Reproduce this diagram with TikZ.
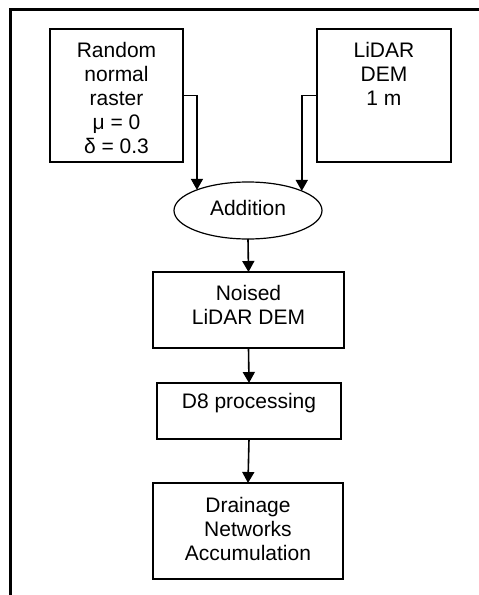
\documentclass[tikz,border=0pt]{standalone}
\usepackage{fontspec}
\setmainfont{Liberation Sans}
\usetikzlibrary{arrows.meta,shapes.geometric}
\tikzset{
  box/.style={draw=black, line width=1.2pt, rectangle, inner sep=0pt, outer sep=0pt},
  txt/.style={anchor=base, align=center, inner sep=0pt, font=\fontsize{21pt}{24pt}\selectfont},
  oval/.style={draw=black, line width=1.2pt, ellipse, inner sep=0pt, outer sep=0pt,
    minimum width=148pt, minimum height=57pt, text depth=6pt,
    font=\fontsize{21pt}{24pt}\selectfont},
  arr/.style={line width=1.6pt, -{Triangle[length=11pt,width=12pt]}},
  frame/.style={line width=2.2pt},
}
\begin{document}
\begin{tikzpicture}[x=1pt,y=-1pt]
\useasboundingbox (0,0) rectangle (479,595);
\draw[frame] (479,9.5) -- (10.5,9.5) -- (10.5,595);
% boxes
\node[box, minimum width=133pt, minimum height=133pt] (b1) at (116.5,95.5) {};
\node[box, minimum width=134pt, minimum height=133pt] (b2) at (384,95.5) {};
\node[oval] (add) at (248,210.5) {Addition};
\node[box, minimum width=191pt, minimum height=76pt] (b3) at (248.5,310) {};
\node[box, minimum width=184pt, minimum height=56pt] (b4) at (249,411) {};
\node[box, minimum width=190pt, minimum height=96pt] (b5) at (248,531) {};
% texts (anchor=base is the baseline of the last line)
\node[txt] (t1) at (116.5,153.7) {Random\\normal\\raster\\μ = 0\\δ = 0.3};
\node[txt] (t2) at (384,105.7) {LiDAR\\DEM\\1 m};
\node[txt] (t3) at (248.5,324) {Noised\\LiDAR DEM};
\node[txt] (t4) at (249,408.5) {D8 processing};
\node[txt] (t5) at (248,560.5) {Drainage\\Networks\\Accumulation};
% connectors
\draw[arr] (b1.east) -| (add.158);
\draw[arr] (b2.west) -| (add.20.6);
\draw[arr] (add.south) -- (b3.north);
\draw[arr] (b3.south) -- (b4.north);
\draw[arr] (b4.south) -- (b5.north);
\end{tikzpicture}
\end{document}
